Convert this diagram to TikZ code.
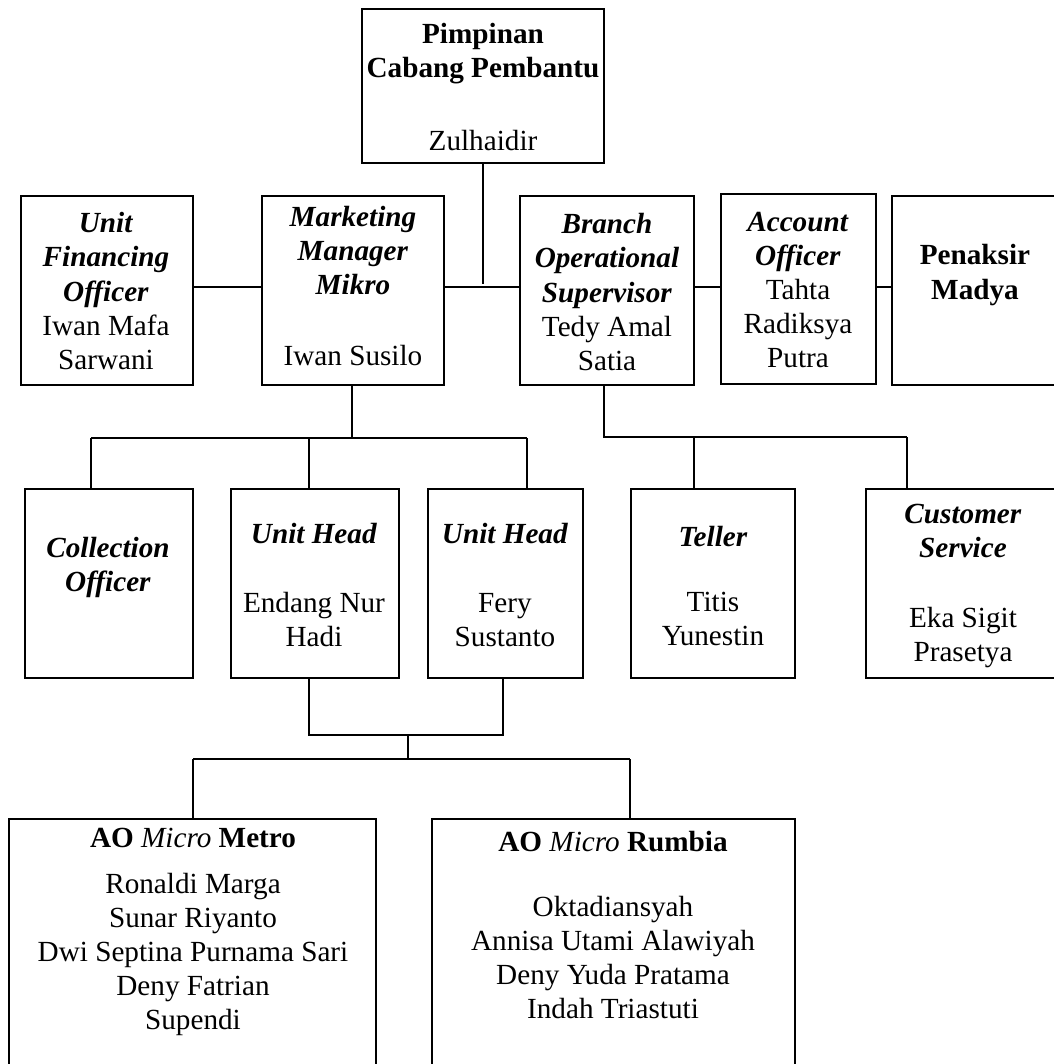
\documentclass[tikz,border=0pt]{standalone}
\usepackage{fontspec}
\setmainfont{Liberation Serif}
\usetikzlibrary{fit}

\begin{document}
\begin{tikzpicture}[x=0.411pt, y=-0.411pt, line width=0.8pt,
  box/.style={draw, inner sep=0pt, outer sep=0pt},
  txt/.style={align=center, inner sep=0pt, font=\fontsize{12}{14}\selectfont}]
  \useasboundingbox (0,0) rectangle (1054,1064);
  \clip (0,0) rectangle (1054,1064);
  % boxes
  \node[box, fit={(362,9) (604,163)}] (pcp) {};
  \node[box, fit={(21,196) (193,385)}] (ufo) {};
  \node[box, fit={(262,196) (444,385)}] (mm) {};
  \node[box, fit={(520,196) (694,385)}] (bos) {};
  \node[box, fit={(721,194) (876,384)}] (ao) {};
  \node[box, fit={(892,196) (1058,385)}] (pen) {};
  \node[box, fit={(25,489) (193,678)}] (coll) {};
  \node[box, fit={(231,489) (399,678)}] (uh1) {};
  \node[box, fit={(428,489) (583,678)}] (uh2) {};
  \node[box, fit={(631,489) (795,678)}] (tell) {};
  \node[box, fit={(866,489) (1060,678)}] (cs) {};
  \node[box, fit={(9,819) (376,1090)}] (metro) {};
  \node[box, fit={(432,819) (795,1090)}] (rumb) {};
  % texts
  \node[txt] (pcpT) at (483,87) {\textbf{Pimpinan}\\\textbf{Cabang Pembantu}\\[16pt]Zulhaidir};
  \node[txt] (ufoT) at (106,291) {\textbf{\textit{Unit}}\\\textbf{\textit{Financing}}\\\textbf{\textit{Officer}}\\Iwan Mafa\\Sarwani};
  \node[txt] (mmT) at (353,286) {\textbf{\textit{Marketing}}\\\textbf{\textit{Manager}}\\\textbf{\textit{Mikro}}\\[15pt]Iwan Susilo};
  \node[txt] (bosT) at (607,292) {\textbf{\textit{Branch}}\\\textbf{\textit{Operational}}\\\textbf{\textit{Supervisor}}\\Tedy Amal\\Satia};
  \node[txt] (aoT) at (798,290) {\textbf{\textit{Account}}\\\textbf{\textit{Officer}}\\Tahta\\Radiksya\\Putra};
  \node[txt] (penT) at (975,275) {\textbf{Penaksir}\\\textbf{Madya}};
  \node[txt] (collT) at (108,567) {\textbf{\textit{Collection}}\\\textbf{\textit{Officer}}};
  \node[txt] (uh1T) at (314,585) {\textbf{\textit{Unit Head}}\\[14pt]Endang Nur\\Hadi};
  \node[txt] (uh2T) at (505,585) {\textbf{\textit{Unit Head}}\\[14pt]Fery\\Sustanto};
  \node[txt] (tellT) at (713,586) {\textbf{\textit{Teller}}\\[13pt]Titis\\Yunestin};
  \node[txt] (csT) at (963,586) {\textbf{\textit{Customer}}\\\textbf{\textit{Service}}\\[15pt]Eka Sigit\\Prasetya};
  \node[txt] (metroT) at (193,932) {\textbf{AO} \textit{Micro} \textbf{Metro}\\[5pt]Ronaldi Marga\\Sunar Riyanto\\Dwi Septina Purnama Sari\\Deny Fatrian\\Supendi};
  \node[txt] (rumbT) at (613,925) {\textbf{AO} \textit{Micro} \textbf{Rumbia}\\[13pt]Oktadiansyah\\Annisa Utami Alawiyah\\Deny Yuda Pratama\\Indah Triastuti};
  % top level
  \coordinate (hub) at (483,287);
  \coordinate (pcpfoot) at (483,284);
  \draw (pcp.south) -- (pcpfoot);
  \draw (ufo.east |- hub) -- (mm.west |- hub);
  \draw (mm.east |- hub) -- (bos.west |- hub);
  \draw (bos.east |- hub) -- (ao.west |- hub);
  \draw (ao.east |- hub) -- (pen.west |- hub);
  % under marketing manager
  \coordinate (mmbus) at (352,438);
  \coordinate (collx) at (91,438);
  \coordinate (uh1x) at (309,438);
  \coordinate (uh2x) at (527,438);
  \draw (mmbus |- mm.south) -- (mmbus);
  \draw (collx) -- (uh2x);
  \draw (collx) -- (collx |- coll.north);
  \draw (uh1x) -- (uh1x |- uh1.north);
  \draw (uh2x) -- (uh2x |- uh2.north);
  % under operational supervisor
  \coordinate (bosbus) at (604,437);
  \coordinate (tellx) at (694,437);
  \coordinate (csx) at (907,437);
  \draw (bosbus |- bos.south) -- (bosbus) -- (csx);
  \draw (tellx) -- (tellx |- tell.north);
  \draw (csx) -- (csx |- cs.north);
  % under unit heads
  \coordinate (uh1low) at (309,735);
  \coordinate (uh2low) at (503,735);
  \coordinate (uhjoin) at (408,735);
  \coordinate (aobus) at (408,759);
  \coordinate (metrox) at (193,759);
  \coordinate (rumbx) at (630,759);
  \draw (uh1low |- uh1.south) -- (uh1low) -- (uh2low) -- (uh2low |- uh2.south);
  \draw (uhjoin) -- (aobus);
  \draw (metrox) -- (rumbx);
  \draw (metrox) -- (metrox |- metro.north);
  \draw (rumbx) -- (rumbx |- rumb.north);
\end{tikzpicture}
\end{document}
